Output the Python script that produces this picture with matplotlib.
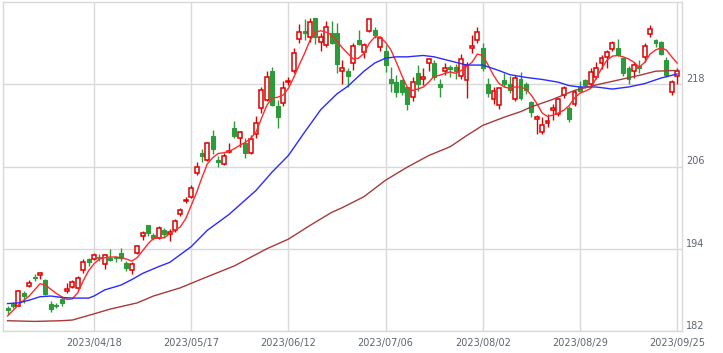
import matplotlib
matplotlib.use("Agg")
import matplotlib.pyplot as plt

# trading-day index of each labelled date
tick_labels = ["2023/04/18", "2023/05/17", "2023/06/12", "2023/07/06",
               "2023/08/02", "2023/08/29", "2023/09/25"]
tick_idx = [16, 34, 52, 70, 88, 106, 124]

opens = [185.3, 186.0, 185.7, 187.6, 188.6, 189.9, 190.2, 189.5, 186.0, 185.8,
         186.6, 187.9, 188.4, 188.3, 190.9, 192.5, 192.5, 192.8, 191.8, 192.7,
         192.8, 193.4, 191.9, 190.9, 193.4, 195.9, 197.4, 196.0, 195.6, 196.8,
         196.2, 196.8, 199.1, 200.9, 201.5, 205.0, 207.9, 207.0, 210.5, 207.0,
         206.3, 208.1, 211.6, 210.2, 209.4, 208.0, 210.8, 214.6, 215.7, 219.9,
         214.8, 215.2, 218.3, 220.0, 224.6, 225.8, 224.9, 227.7, 224.1, 223.7,
         225.5, 225.5, 219.9, 219.9, 221.1, 224.4, 222.7, 225.8, 225.9, 223.4,
         222.8, 218.7, 218.3, 218.6, 217.6, 216.2, 219.6, 218.7, 221.1, 221.1,
         218.0, 219.9, 220.5, 220.5, 219.2, 218.6, 223.3, 224.4, 223.3, 218.1,
         215.8, 214.9, 218.6, 218.0, 215.8, 218.7, 218.1, 215.4, 213.0, 211.0,
         212.3, 214.2, 213.6, 216.4, 214.6, 215.1, 217.6, 218.6, 218.1, 219.0,
         221.1, 222.0, 223.1, 223.3, 221.8, 220.3, 219.9, 220.6, 222.0, 225.3,
         224.4, 224.1, 221.5, 216.8, 219.2]
highs = [185.7, 186.3, 188.0, 187.9, 189.5, 190.3, 190.6, 189.6, 186.4, 186.1,
         186.9, 189.0, 189.4, 190.0, 192.5, 192.7, 193.4, 193.3, 193.3, 194.0,
         193.0, 194.1, 192.2, 192.0, 194.6, 196.6, 197.5, 196.3, 197.3, 197.0,
         196.9, 198.4, 199.9, 201.5, 203.3, 206.6, 208.5, 209.6, 211.3, 207.6,
         208.0, 209.5, 212.7, 211.2, 210.2, 210.6, 213.4, 217.6, 220.0, 220.5,
         215.7, 218.5, 219.1, 223.3, 226.8, 227.5, 227.7, 227.7, 225.5, 227.2,
         227.2, 227.0, 221.5, 220.3, 224.0, 225.9, 224.0, 227.5, 226.3, 225.0,
         223.7, 220.5, 219.3, 218.8, 217.6, 219.1, 220.8, 220.3, 221.9, 221.5,
         218.8, 221.1, 220.8, 221.0, 222.4, 221.2, 225.2, 226.3, 224.0, 218.9,
         217.6, 217.6, 219.7, 219.2, 219.3, 219.8, 218.3, 215.6, 213.5, 213.2,
         213.6, 215.1, 216.0, 217.8, 214.8, 217.2, 218.5, 218.8, 220.3, 221.3,
         222.3, 223.0, 224.3, 224.6, 222.0, 220.6, 221.2, 221.6, 224.0, 226.7,
         224.6, 224.3, 222.0, 218.6, 220.3]
lows = [184.5, 185.4, 185.6, 186.1, 188.4, 189.3, 189.6, 187.3, 184.8, 185.3,
        185.7, 187.6, 188.3, 188.1, 190.4, 191.5, 192.3, 192.2, 191.0, 192.2,
        192.0, 192.2, 190.7, 190.3, 193.2, 195.3, 195.9, 195.3, 195.4, 195.6,
        195.2, 196.5, 198.8, 200.7, 201.4, 204.7, 206.6, 206.8, 207.8, 206.0,
        206.2, 208.0, 210.2, 208.8, 207.3, 207.8, 210.2, 213.8, 215.5, 214.8,
        211.6, 214.8, 217.9, 219.7, 224.0, 224.4, 224.2, 223.9, 222.8, 223.4,
        223.8, 219.6, 218.0, 217.6, 220.1, 223.7, 221.9, 225.6, 224.8, 222.8,
        219.8, 216.8, 216.1, 216.4, 214.2, 215.6, 217.0, 217.9, 220.0, 218.6,
        216.1, 219.3, 219.0, 218.8, 218.7, 216.0, 222.5, 224.0, 219.9, 216.1,
        215.1, 214.4, 217.6, 216.7, 215.5, 215.7, 216.6, 213.2, 210.8, 210.8,
        211.8, 212.8, 213.4, 216.0, 212.5, 214.8, 216.9, 217.5, 217.8, 218.7,
        220.2, 220.4, 222.9, 222.1, 219.2, 218.1, 218.9, 219.7, 221.3, 224.9,
        223.5, 222.3, 219.1, 216.4, 218.0]
closes = [185.1, 185.6, 187.9, 187.1, 189.0, 189.7, 190.5, 187.4, 185.2, 185.6,
          186.1, 188.1, 189.2, 189.8, 192.1, 192.1, 193.1, 192.6, 193.1, 192.4,
          192.6, 192.7, 191.2, 191.8, 194.4, 196.3, 196.3, 195.5, 197.1, 196.1,
          196.4, 198.1, 199.7, 201.1, 202.8, 206.0, 207.6, 209.5, 208.5, 206.6,
          207.6, 208.3, 210.4, 211.1, 208.0, 210.0, 212.4, 217.1, 219.0, 214.9,
          213.2, 217.4, 218.5, 222.5, 225.6, 225.5, 227.1, 224.9, 224.9, 226.3,
          224.0, 220.9, 220.3, 219.2, 223.6, 223.9, 223.7, 227.5, 225.2, 224.7,
          220.8, 218.2, 216.8, 216.8, 215.1, 218.4, 218.1, 219.0, 221.7, 219.0,
          217.6, 220.3, 220.2, 220.0, 221.7, 220.8, 223.6, 225.6, 220.3, 216.7,
          217.0, 217.4, 218.1, 217.1, 218.9, 216.0, 217.1, 213.9, 213.2, 212.0,
          212.6, 214.6, 215.8, 217.4, 213.0, 216.8, 217.0, 217.9, 219.8, 220.3,
          221.8, 222.7, 224.0, 222.2, 219.6, 218.7, 220.8, 220.3, 223.6, 226.0,
          224.0, 222.4, 219.3, 218.4, 220.0]

# short moving average (red), one value per candle
ma5 = [184.2, 185.0, 185.8, 186.5, 187.1, 188.0, 188.9, 188.7, 188.1, 187.5,
       187.0, 186.6, 186.7, 187.6, 189.3, 190.8, 191.8, 192.5, 192.7, 192.8,
       192.8, 192.7, 192.5, 192.2, 192.7, 193.7, 194.7, 195.5, 195.6, 195.6,
       196.2, 196.7, 197.2, 198.4, 200.3, 202.2, 204.4, 206.4, 207.3, 207.9,
       208.0, 208.2, 208.6, 209.1, 209.5, 210.1, 211.0, 213.0, 214.9, 216.0,
       216.1, 216.4, 217.4, 219.0, 220.8, 222.5, 224.4, 225.6, 225.8, 225.6,
       225.2, 224.3, 223.3, 222.5, 221.7, 221.8, 222.5, 224.0, 224.9, 224.9,
       224.1, 223.0, 221.2, 219.3, 217.6, 217.1, 217.3, 217.6, 218.3, 219.2,
       219.3, 219.6, 219.8, 219.6, 220.0, 220.6, 221.2, 222.4, 222.2, 220.8,
       219.3, 218.1, 217.6, 217.4, 217.6, 217.6, 217.3, 216.4, 215.2, 213.8,
       213.3, 213.5, 213.8, 214.2, 214.9, 216.0, 216.7, 217.0, 217.4, 218.9,
       220.3, 221.5, 222.1, 222.2, 222.0, 221.7, 221.2, 220.5, 221.2, 222.4,
       223.0, 223.3, 223.0, 222.0, 221.1]

# medium moving average (blue), read at these candles
ma25_idx = [0, 2, 4, 6, 8, 10, 12, 15, 16, 18, 21, 23, 25, 28, 30, 34, 37, 41,
            46, 49, 52, 55, 58, 61, 63, 66, 68, 70, 72, 74, 77, 79, 82, 85, 88,
            91, 93, 96, 99, 102, 104, 106, 109, 112, 115, 118, 121, 124]
ma25_val = [186.0, 186.1, 186.5, 187.0, 187.1, 186.9, 186.8, 186.8, 187.1, 188.0,
            188.7, 189.5, 190.4, 191.4, 192.0, 194.3, 196.7, 199.0, 202.5, 205.2,
            207.6, 211.0, 214.3, 216.6, 217.7, 219.9, 221.1, 221.8, 222.0, 222.0,
            222.2, 222.0, 221.4, 220.8, 220.8, 220.0, 219.4, 219.0, 218.7, 218.3,
            217.8, 217.6, 217.6, 217.3, 217.6, 218.1, 218.9, 219.5]

# long moving average (brown)
ma75_idx = [0, 5, 10, 12, 16, 19, 24, 27, 32, 36, 42, 48, 52, 56, 60, 62, 66,
            70, 74, 78, 82, 85, 88, 92, 95, 97, 101, 105, 109, 113, 117, 120,
            123, 124]
ma75_val = [183.5, 183.4, 183.5, 183.6, 184.5, 185.2, 186.1, 187.1, 188.3, 189.6,
            191.5, 194.0, 195.4, 197.4, 199.3, 200.0, 201.6, 204.0, 205.9, 207.6,
            208.9, 210.5, 212.0, 213.2, 214.0, 214.7, 215.8, 217.1, 217.9, 218.6,
            219.3, 219.9, 220.0, 220.0]

y_ticks = [182, 194, 206, 218]

up_col = "#dd0000"
down_col = "#2e9a3c"
grid_col = "#d9d9d9"
text_col = "#5f6670"

fig = plt.figure(figsize=(7.23, 3.53), dpi=100)
ax = fig.add_axes([3 / 723, 22 / 353, 679 / 723, 329 / 353])

# wicks first so hollow bodies cover them
for i, (o, h, l, c) in enumerate(zip(opens, highs, lows, closes)):
    col = up_col if c >= o else down_col
    ax.vlines(i, l, h, color=col, linewidth=1.0, zorder=3)

for i, (o, c) in enumerate(zip(opens, closes)):
    bottom = min(o, c)
    height = max(abs(c - o), 0.15)
    if c >= o:
        ax.bar(i, height, bottom=bottom, width=0.72, facecolor="white",
               edgecolor=up_col, linewidth=1.1, zorder=4)
    else:
        ax.bar(i, height, bottom=bottom, width=0.72, facecolor=down_col,
               edgecolor=down_col, linewidth=0.8, zorder=4)

ax.plot(range(len(ma5)), ma5, color="#ff2a2a", linewidth=1.0, zorder=5)
ax.plot(ma25_idx, ma25_val, color="#2b2bff", linewidth=1.0, zorder=5)
ax.plot(ma75_idx, ma75_val, color="#a83a3a", linewidth=1.0, zorder=5)

ax.set_xlim(-0.85, 124.9)
ax.set_ylim(182, 230)

ax.set_xticks(tick_idx)
ax.set_xticklabels(tick_labels)
ax.set_yticks(y_ticks)
ax.tick_params(axis="both", length=0, labelsize=7, colors=text_col)
ax.tick_params(axis="x", pad=5)
ax.yaxis.tick_right()
ax.set_yticklabels([])
for v in y_ticks:
    ax.text(1.006, (v - 182) / 48, str(v), transform=ax.transAxes,
            ha="left", va="bottom", fontsize=7, color=text_col)

ax.grid(True, color=grid_col, linewidth=1.0, zorder=0)
ax.set_axisbelow(True)
for sp in ax.spines.values():
    sp.set_color(grid_col)
    sp.set_linewidth(1.0)

fig.savefig("out.png", dpi=100)
